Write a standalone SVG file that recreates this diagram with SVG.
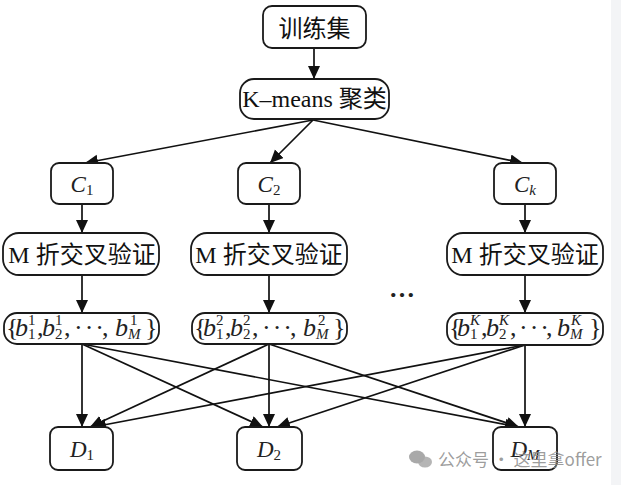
<svg xmlns="http://www.w3.org/2000/svg" width="621" height="485" viewBox="0 0 621 485">
  <style>
    .box { fill: #ffffff; stroke: #1a1a1a; stroke-width: 1.8; }
    .t { font-family: "Liberation Serif", "Noto Sans CJK SC", serif; font-size: 24px; fill: #111; }
    .v { font-family: "Liberation Serif", serif; font-size: 23px; fill: #222; }
    .bt { font-family: "Liberation Serif", serif; font-size: 26px; fill: #222; }
    .s { font-size: 15px; }
    .i { font-style: italic; }
    .edge { stroke: #111; stroke-width: 1.7; fill: none; marker-end: url(#ah); }
    .wm { font-family: "Noto Sans CJK SC", "Noto Sans", sans-serif; font-size: 17px; fill: #8c8c8c; fill-opacity: 0.85; }
  </style>
  <defs>
    <marker id="ah" markerUnits="userSpaceOnUse" markerWidth="14" markerHeight="13" refX="13" refY="6" orient="auto">
      <path d="M0,0 L13,6 L0,12 z" fill="#111"/>
    </marker>
  </defs>
  <rect x="0" y="0" width="621" height="485" fill="#ffffff"/>
  <rect x="611" y="0" width="10" height="485" fill="#f3f4f6"/>

  <g id="connectors">
    <line class="edge" x1="314" y1="48" x2="314" y2="79"/>
    <line class="edge" x1="313" y1="120" x2="85" y2="163"/>
    <line class="edge" x1="313" y1="120" x2="270" y2="163"/>
    <line class="edge" x1="313" y1="120" x2="523" y2="163"/>
    <line class="edge" x1="82" y1="204" x2="82" y2="233"/>
    <line class="edge" x1="269" y1="204" x2="269" y2="233"/>
    <line class="edge" x1="525" y1="204" x2="525" y2="233"/>
    <line class="edge" x1="82" y1="275" x2="82" y2="313"/>
    <line class="edge" x1="269" y1="275" x2="269" y2="313"/>
    <line class="edge" x1="525" y1="275" x2="525" y2="313"/>
    <line class="edge" x1="82" y1="344" x2="82" y2="427"/>
    <line class="edge" x1="82" y1="344" x2="263" y2="427"/>
    <line class="edge" x1="82" y1="344" x2="518" y2="427"/>
    <line class="edge" x1="269" y1="344" x2="90" y2="427"/>
    <line class="edge" x1="269" y1="344" x2="269" y2="427"/>
    <line class="edge" x1="269" y1="344" x2="519" y2="427"/>
    <line class="edge" x1="525" y1="345" x2="93" y2="427"/>
    <line class="edge" x1="525" y1="345" x2="277" y2="427"/>
    <line class="edge" x1="525" y1="345" x2="525" y2="427"/>
  </g>

  <g id="train">
    <rect class="box" x="263" y="6" width="103" height="42" rx="9"/>
    <text class="t" x="314.5" y="37" text-anchor="middle">训练集</text>
  </g>
  <g id="kmeans">
    <rect class="box" x="240" y="79" width="149" height="40" rx="14"/>
    <text class="t" x="314.5" y="107" text-anchor="middle">K–means 聚类</text>
  </g>

  <g id="c1">
    <rect class="box" x="51" y="163" width="62" height="41" rx="8"/>
    <text class="v" x="82" y="192" text-anchor="middle"><tspan class="i">C</tspan><tspan font-size="15" dy="3">1</tspan></text>
  </g>
  <g id="c2">
    <rect class="box" x="238" y="163" width="62" height="41" rx="8"/>
    <text class="v" x="269" y="192" text-anchor="middle"><tspan class="i">C</tspan><tspan font-size="15" dy="3">2</tspan></text>
  </g>
  <g id="ck">
    <rect class="box" x="494" y="163" width="62" height="41" rx="8"/>
    <text class="v" x="525" y="192" text-anchor="middle"><tspan class="i">C</tspan><tspan class="i" font-size="15" dy="3">k</tspan></text>
  </g>

  <g id="m1">
    <rect class="box" x="3" y="233" width="156" height="42" rx="16"/>
    <text class="t" x="82" y="263" text-anchor="middle">M 折交叉验证</text>
  </g>
  <g id="m2">
    <rect class="box" x="191" y="233" width="156" height="42" rx="16"/>
    <text class="t" x="269" y="263" text-anchor="middle">M 折交叉验证</text>
  </g>
  <g id="mk">
    <rect class="box" x="447" y="233" width="156" height="42" rx="16"/>
    <text class="t" x="525" y="263" text-anchor="middle">M 折交叉验证</text>
  </g>

  <g id="b1" transform="translate(4,0)">
    <rect class="box" x="0" y="313" width="155" height="31" rx="13"/>
    <text class="bt" y="336"><tspan x="2">{</tspan><tspan x="11" class="i">b</tspan><tspan x="24" y="325" class="s">1</tspan><tspan x="24" y="339" class="s">1</tspan><tspan x="33" y="336">,</tspan><tspan x="38" class="i">b</tspan><tspan x="51" y="325" class="s">1</tspan><tspan x="51" y="339" class="s">2</tspan><tspan x="60" y="336">,</tspan><tspan x="70" letter-spacing="2">···</tspan><tspan x="98">,</tspan><tspan x="111" class="i">b</tspan><tspan x="126" y="325" class="s">1</tspan><tspan x="124" y="339" class="s i">M</tspan><tspan x="141" y="336">}</tspan></text>
  </g>
  <g id="b2" transform="translate(192,0)">
    <rect class="box" x="0" y="313" width="155" height="31" rx="13"/>
    <text class="bt" y="336"><tspan x="2">{</tspan><tspan x="11" class="i">b</tspan><tspan x="24" y="325" class="s">2</tspan><tspan x="24" y="339" class="s">1</tspan><tspan x="33" y="336">,</tspan><tspan x="38" class="i">b</tspan><tspan x="51" y="325" class="s">2</tspan><tspan x="51" y="339" class="s">2</tspan><tspan x="60" y="336">,</tspan><tspan x="70" letter-spacing="2">···</tspan><tspan x="98">,</tspan><tspan x="111" class="i">b</tspan><tspan x="126" y="325" class="s">2</tspan><tspan x="124" y="339" class="s i">M</tspan><tspan x="141" y="336">}</tspan></text>
  </g>
  <g id="bk" transform="translate(447,0)">
    <rect class="box" x="0" y="313" width="156" height="32" rx="13"/>
    <text class="bt" y="336"><tspan x="2">{</tspan><tspan x="10" class="i">b</tspan><tspan x="23" y="325" class="s i">K</tspan><tspan x="23" y="339" class="s">1</tspan><tspan x="34" y="336">,</tspan><tspan x="39" class="i">b</tspan><tspan x="52" y="325" class="s i">K</tspan><tspan x="52" y="339" class="s">2</tspan><tspan x="63" y="336">,</tspan><tspan x="72" letter-spacing="2">···</tspan><tspan x="99">,</tspan><tspan x="110" class="i">b</tspan><tspan x="124" y="325" class="s i">K</tspan><tspan x="123" y="339" class="s i">M</tspan><tspan x="142" y="336">}</tspan></text>
  </g>

  <g id="dots">
    <text class="bt" x="402" y="297" text-anchor="middle" font-weight="bold">…</text>
  </g>

  <g id="d1">
    <rect class="box" x="50" y="427" width="63" height="43" rx="8"/>
    <text class="v" x="82" y="457" text-anchor="middle"><tspan class="i">D</tspan><tspan font-size="15" dy="3">1</tspan></text>
  </g>
  <g id="d2">
    <rect class="box" x="237" y="427" width="65" height="43" rx="8"/>
    <text class="v" x="269" y="457" text-anchor="middle"><tspan class="i">D</tspan><tspan font-size="15" dy="3">2</tspan></text>
  </g>
  <g id="dm">
    <rect class="box" x="493" y="427" width="64" height="43" rx="8"/>
    <text class="v" x="525" y="457" text-anchor="middle"><tspan class="i">D</tspan><tspan class="i" font-size="15" dy="3">M</tspan></text>
  </g>

  <g id="watermark">
    <ellipse cx="417" cy="457" rx="8" ry="6.5" fill="#9a9a9a" fill-opacity="0.85"/>
    <ellipse cx="425" cy="462" rx="7" ry="5.5" fill="#a8a8a8" fill-opacity="0.85"/>
    <text class="wm" x="438" y="466">公众号 · 这里拿offer</text>
  </g>
</svg>
